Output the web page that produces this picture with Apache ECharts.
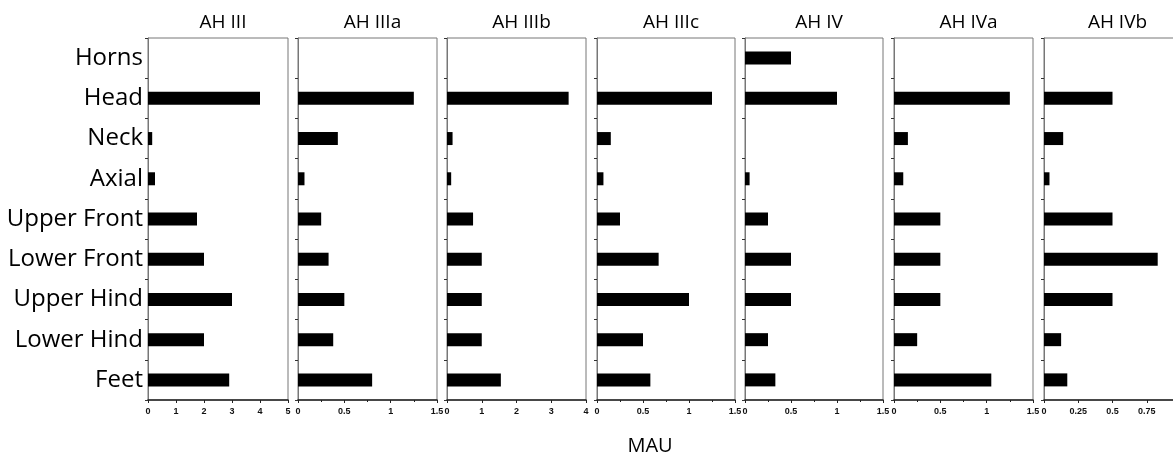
<!DOCTYPE html>
<html lang="en">
<head>
    <meta charset="UTF-8">
    <title>MAU</title>
    <style>
        html, body { margin: 0; padding: 0; background: #fff; }
    </style>
</head>
<body>
    <div id="chart" style="width:1173px; height:456px;"></div>
    <script src="https://cdn.jsdelivr.net/npm/echarts@6/dist/echarts.min.js"></script>
    <script>
        const categories = ['Horns', 'Head', 'Neck', 'Axial', 'Upper Front', 'Lower Front', 'Upper Hind', 'Lower Hind', 'Feet']
        const panelTitles = ['AH III', 'AH IIIa', 'AH IIIb', 'AH IIIc', 'AH IV', 'AH IVa', 'AH IVb']

        const ahIII = [0, 4, 0.15, 0.25, 1.75, 2, 3, 2, 2.9]
        const ahIIIa = [0, 1.25, 0.43, 0.07, 0.25, 0.33, 0.5, 0.38, 0.8]
        const ahIIIb = [0, 3.5, 0.16, 0.12, 0.75, 1, 1, 1, 1.55]
        const ahIIIc = [0, 1.25, 0.15, 0.07, 0.25, 0.67, 1, 0.5, 0.58]
        const ahIV = [0.5, 1, 0, 0.05, 0.25, 0.5, 0.5, 0.25, 0.33]
        const ahIVa = [0, 1.25, 0.15, 0.1, 0.5, 0.5, 0.5, 0.25, 1.05]
        const ahIVb = [0, 0.5, 0.14, 0.04, 0.5, 0.83, 0.5, 0.125, 0.17]

        const panelValues = [ahIII, ahIIIa, ahIIIb, ahIIIc, ahIV, ahIVa, ahIVb]
        // x axis range and tick step of each panel
        const axisMax = [5, 1.5, 4, 1.5, 1.5, 1.5, 1]
        const axisStep = [1, 0.5, 1, 0.5, 0.5, 0.5, 0.25]

        // panel layout (pixels)
        const lefts = [148, 298, 447, 597, 745, 894, 1044]
        const widths = [140, 139, 139, 138, 138, 139, 137]
        const gridTop = 38
        const gridHeight = 362

        const myChart = echarts.init(document.getElementById('chart'))

        const grid = [], xAxis = [], yAxis = [], series = [], title = []

        panelValues.forEach((vals, i) => {
            grid.push({
                left: lefts[i],
                top: gridTop,
                width: widths[i],
                height: gridHeight,
                // last panel runs past the right edge, like the cropped original
                outerBoundsMode: 'none',
                show: true,
                borderColor: '#777',
                borderWidth: 1,
                backgroundColor: '#fff'
            })
            title.push({
                text: panelTitles[i],
                left: lefts[i] + widths[i] / 2,
                top: 8,
                textAlign: 'center',
                textStyle: {
                    fontFamily: 'Open Sans',
                    fontWeight: 'normal',
                    fontSize: 19,
                    color: '#000'
                }
            })
            xAxis.push({
                type: 'value',
                gridIndex: i,
                min: 0,
                max: axisMax[i],
                interval: axisStep[i],
                splitLine: { show: false },
                axisLine: { show: true, lineStyle: { color: '#222', width: 1.5 } },
                axisTick: { show: true, length: 3, lineStyle: { color: '#222' } },
                minorTick: { show: axisStep[i] === 0.5, splitNumber: 2, length: 2, lineStyle: { color: '#222' } },
                axisLabel: {
                    show: true,
                    showMaxLabel: true,
                    margin: 7,
                    fontFamily: 'Liberation Sans',
                    fontWeight: 'bold',
                    fontSize: 9,
                    color: '#111'
                }
            })
            yAxis.push({
                type: 'category',
                gridIndex: i,
                data: categories,
                inverse: true,
                axisLine: { show: true, lineStyle: { color: '#777' } },
                axisTick: { show: true, length: 3, lineStyle: { color: '#333' } },
                axisLabel: {
                    show: i === 0,
                    margin: 5,
                    fontFamily: 'Open Sans',
                    fontSize: 24,
                    color: '#000'
                }
            })
            series.push({
                type: 'bar',
                xAxisIndex: i,
                yAxisIndex: i,
                data: vals,
                barWidth: 13,
                itemStyle: { color: '#000' },
                silent: true
            })
        })

        title.push({
            text: 'MAU',
            left: 645,
            top: 431,
            textAlign: 'center',
            textStyle: {
                fontFamily: 'Open Sans',
                fontWeight: 'normal',
                fontSize: 20,
                color: '#000'
            }
        })

        myChart.setOption({
            animation: false,
            backgroundColor: '#fff',
            title: title,
            grid: grid,
            xAxis: xAxis,
            yAxis: yAxis,
            series: series
        })
    </script>
</body>
</html>
